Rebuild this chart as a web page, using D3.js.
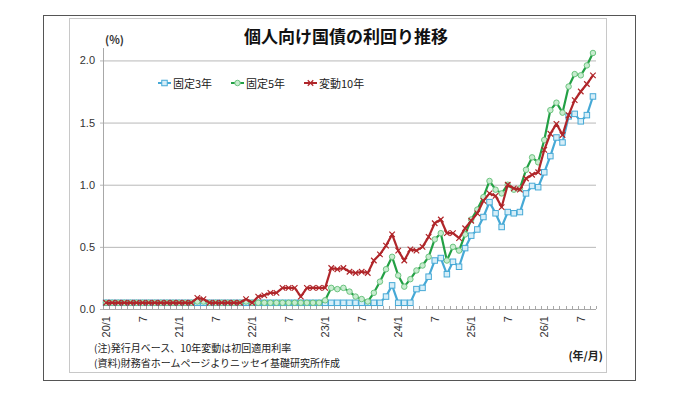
<!DOCTYPE html>
<html>
<head>
<meta charset="utf-8">
<script src="https://cdn.jsdelivr.net/npm/d3@7"></script>
<style>
  body { margin: 0; background: #fff; }
  svg { display: block; font-family: "Noto Sans CJK JP", "Noto Sans", sans-serif; }
  .tick-label { font-size: 11px; fill: #333; }
  .note { font-size: 10px; fill: #222; }
</style>
</head>
<body>
<div id="chart"></div>
<script>
// months on the x axis: 2020/1 .. 2026/9 (issue month)
const years = [20, 21, 22, 23, 24, 25, 26];
const lastMonth = 9;
const labelMonths = [1, 7];

const months = [];
years.forEach(y => {
  for (let m = 1; m <= 12; m++) {
    if (y === 26 && m > lastMonth) break;
    months.push({ y: y, m: m });
  }
});

// yields (%), one value per month
const fixed3 = [
  0.05, 0.05, 0.05, 0.05, 0.05, 0.05, 0.05, 0.05, 0.05, 0.05, 0.05, 0.05,
  0.05, 0.05, 0.05, 0.05, 0.05, 0.05, 0.05, 0.05, 0.05, 0.05, 0.05, 0.05,
  0.05, 0.05, 0.05, 0.05, 0.05, 0.05, 0.05, 0.05, 0.05, 0.05, 0.05, 0.05,
  0.05, 0.05, 0.05, 0.05, 0.05, 0.05, 0.05, 0.05, 0.05, 0.05, 0.10, 0.19,
  0.05, 0.05, 0.05, 0.16, 0.17, 0.26, 0.39, 0.41, 0.28, 0.38, 0.34, 0.49,
  0.59, 0.64, 0.74, 0.86, 0.77, 0.66, 0.78, 0.77, 0.78, 0.93, 0.99, 0.98,
  1.10, 1.23, 1.38, 1.34, 1.55, 1.57, 1.51, 1.56, 1.71
];
const fixed5 = [
  0.05, 0.05, 0.05, 0.05, 0.05, 0.05, 0.05, 0.05, 0.05, 0.05, 0.05, 0.05,
  0.05, 0.05, 0.05, 0.06, 0.06, 0.05, 0.05, 0.05, 0.05, 0.05, 0.05, 0.06,
  0.05, 0.05, 0.05, 0.05, 0.05, 0.05, 0.05, 0.05, 0.05, 0.05, 0.05, 0.05,
  0.07, 0.17, 0.16, 0.17, 0.14, 0.10, 0.08, 0.06, 0.13, 0.22, 0.32, 0.42,
  0.27, 0.18, 0.24, 0.31, 0.35, 0.42, 0.56, 0.61, 0.39, 0.50, 0.47, 0.60,
  0.72, 0.80, 0.90, 1.03, 0.96, 0.93, 1.00, 0.96, 0.97, 1.12, 1.22, 1.18,
  1.36, 1.60, 1.66, 1.58, 1.79, 1.89, 1.88, 1.96, 2.06
];
const floating10 = [
  0.05, 0.05, 0.05, 0.05, 0.05, 0.05, 0.05, 0.05, 0.05, 0.05, 0.05, 0.05,
  0.05, 0.05, 0.05, 0.09, 0.08, 0.05, 0.05, 0.05, 0.05, 0.05, 0.05, 0.08,
  0.05, 0.10, 0.11, 0.13, 0.13, 0.17, 0.17, 0.17, 0.10, 0.17, 0.17, 0.17,
  0.17, 0.33, 0.32, 0.33, 0.30, 0.29, 0.30, 0.29, 0.39, 0.44, 0.51, 0.60,
  0.47, 0.39, 0.48, 0.47, 0.50, 0.58, 0.69, 0.72, 0.61, 0.61, 0.57, 0.65,
  0.71, 0.77, 0.87, 0.93, 0.91, 0.82, 1.00, 0.97, 0.96, 1.05, 1.08, 1.10,
  1.28, 1.41, 1.49, 1.40, 1.56, 1.68, 1.75, 1.81, 1.88
];

const seriesNames = ['固定3年', '固定5年', '変動10年'];
const yTicks = [0, 0.5, 1.0, 1.5, 2.0];

const series = [
  { key: seriesNames[0], values: fixed3, color: '#46a9d6', fill: '#d6eef8', marker: 'square' },
  { key: seriesNames[1], values: fixed5, color: '#23a045', fill: '#c8ecd0', marker: 'circle' },
  { key: seriesNames[2], values: floating10, color: '#b0262a', fill: 'none', marker: 'cross' }
];

const W = 680, H = 403;
const plot = { left: 103, right: 596, top: 48, bottom: 309 };

const svg = d3.select('#chart').append('svg')
    .attr('width', W)
    .attr('height', H);

// frames
svg.append('rect')
    .attr('x', 43.5).attr('y', 15.5)
    .attr('width', 592).attr('height', 365)
    .attr('fill', 'none').attr('stroke', '#555');
svg.append('rect')
    .attr('x', 69.5).attr('y', 18.5)
    .attr('width', 537).attr('height', 354)
    .attr('fill', 'none').attr('stroke', '#c8c8c8');

const x = d3.scaleBand()
    .domain(d3.range(months.length))
    .range([plot.left, plot.right])
    .paddingInner(0);
const cx = i => x(i) + x.bandwidth() / 2;

const y = d3.scaleLinear()
    .domain([0, 2.1])
    .range([plot.bottom, plot.top]);

// gridlines + y labels
const yAxis = d3.axisLeft(y)
    .tickValues(yTicks)
    .tickSize(-(plot.right - plot.left))
    .tickPadding(8)
    .tickFormat(d3.format('.1f'));

const gy = svg.append('g')
    .attr('transform', 'translate(' + plot.left + ',0)')
    .call(yAxis);
gy.select('.domain').remove();
gy.selectAll('.tick line')
    .attr('stroke', '#b8b8b8')
    .attr('x1', -3);
gy.selectAll('.tick text')
    .attr('class', 'tick-label')
    .style('font-family', '"Liberation Sans", Arial, sans-serif');

// y axis line
svg.append('line')
    .attr('x1', plot.left + 0.5).attr('x2', plot.left + 0.5)
    .attr('y1', plot.top).attr('y2', plot.bottom)
    .attr('stroke', '#a8a8a8');

// x axis line with small inside ticks at every month boundary
svg.append('line')
    .attr('x1', plot.left).attr('x2', plot.right)
    .attr('y1', plot.bottom + 0.5).attr('y2', plot.bottom + 0.5)
    .attr('stroke', '#a8a8a8');

const boundaries = d3.range(months.length + 1);
svg.append('g').selectAll('line')
    .data(boundaries)
    .enter()
    .append('line')
    .attr('x1', d => Math.round(d < months.length ? x(d) : plot.right) + 0.5)
    .attr('x2', d => Math.round(d < months.length ? x(d) : plot.right) + 0.5)
    .attr('y1', plot.bottom - 3)
    .attr('y2', plot.bottom)
    .attr('stroke', '#a8a8a8');

// x labels (rotated)
const labelIdx = d3.range(months.length).filter(i => labelMonths.includes(months[i].m));
svg.append('g').selectAll('text')
    .data(labelIdx)
    .enter()
    .append('text')
    .attr('class', 'tick-label')
    .style('font-family', '"Liberation Sans", Arial, sans-serif')
    .attr('text-anchor', 'end')
    .attr('dominant-baseline', 'central')
    .attr('transform', i => 'translate(' + cx(i) + ',' + (plot.bottom + 7) + ') rotate(-90)')
    .text(i => months[i].m === 1 ? months[i].y + '/1' : String(months[i].m));

// lines
const line = d3.line()
    .x((d, i) => cx(i))
    .y(d => y(d));

function drawMarker(g, type, color, fill, size) {
  if (type === 'square') {
    g.append('rect')
        .attr('x', -size / 2).attr('y', -size / 2)
        .attr('width', size).attr('height', size)
        .attr('fill', fill).attr('stroke', color).attr('stroke-width', 1);
  } else if (type === 'circle') {
    g.append('circle')
        .attr('r', size / 2)
        .attr('fill', fill).attr('stroke', '#6cc47f').attr('stroke-width', 1);
  } else {
    const s = size / 2;
    g.append('path')
        .attr('d', 'M' + (-s) + ',' + (-s) + 'L' + s + ',' + s + 'M' + (-s) + ',' + s + 'L' + s + ',' + (-s))
        .attr('stroke', color).attr('stroke-width', 1.2);
  }
}

series.forEach(s => {
  const g = svg.append('g');
  g.append('path')
      .datum(s.values)
      .attr('fill', 'none')
      .attr('stroke', s.color)
      .attr('stroke-width', 2.2)
      .attr('stroke-linejoin', 'round')
      .attr('d', line);
  g.selectAll('g.mk')
      .data(s.values)
      .enter()
      .append('g')
      .attr('class', 'mk')
      .attr('transform', (d, i) => 'translate(' + cx(i) + ',' + y(d) + ')')
      .each(function() {
        drawMarker(d3.select(this), s.marker, s.color, s.fill, 5.5);
      });
});

// legend
const legendX = [158, 231, 304];
const legend = svg.append('g')
    .selectAll('g')
    .data(series)
    .enter()
    .append('g')
    .attr('transform', (d, i) => 'translate(' + legendX[i] + ',83)');
legend.append('line')
    .attr('x1', 0).attr('x2', 13)
    .attr('stroke', d => d.color)
    .attr('stroke-width', 2);
legend.each(function(d) {
  const g = d3.select(this).append('g').attr('transform', 'translate(6.5,0)');
  drawMarker(g, d.marker, d.color, d.fill, 5.5);
});
legend.append('text')
    .attr('x', 15)
    .attr('dominant-baseline', 'central')
    .style('font-size', '11px')
    .attr('fill', '#222')
    .text(d => d.key);

// title and unit
svg.append('text')
    .attr('x', 346).attr('y', 35)
    .attr('text-anchor', 'middle')
    .attr('dominant-baseline', 'central')
    .style('font-size', '17px')
    .style('font-weight', 'bold')
    .attr('fill', '#111')
    .text('個人向け国債の利回り推移');

svg.append('text')
    .attr('x', 105).attr('y', 39)
    .attr('dominant-baseline', 'central')
    .style('font-size', '11px')
    .style('font-weight', 'bold')
    .attr('fill', '#333')
    .text('(%)');

svg.append('text')
    .attr('x', 603).attr('y', 355)
    .attr('text-anchor', 'end')
    .attr('dominant-baseline', 'central')
    .style('font-size', '11px')
    .style('font-weight', 'bold')
    .attr('fill', '#222')
    .text('(年/月)');

// notes
svg.append('text')
    .attr('class', 'note')
    .attr('x', 94).attr('y', 347)
    .attr('dominant-baseline', 'central')
    .text('(注)発行月ベース、10年変動は初回適用利率');
svg.append('text')
    .attr('class', 'note')
    .attr('x', 94).attr('y', 362)
    .attr('dominant-baseline', 'central')
    .text('(資料)財務省ホームページよりニッセイ基礎研究所作成');
</script>
</body>
</html>
